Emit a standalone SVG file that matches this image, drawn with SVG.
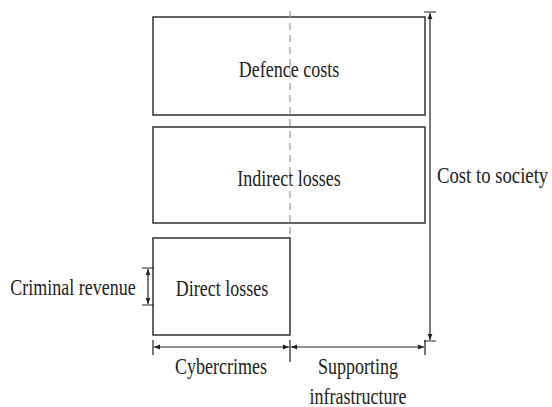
<svg xmlns="http://www.w3.org/2000/svg" width="552" height="407" viewBox="0 0 552 407">
<style>
.box{fill:#fff;stroke:#333;stroke-width:1.5}
.ln{stroke:#222;stroke-width:1.2;fill:none}
.dash{stroke:#999;stroke-width:1.2;stroke-dasharray:7,5;fill:none}
text{font-family:"Liberation Serif","DejaVu Serif",serif;font-size:18px;fill:#222}
</style>
<defs>
<marker id="ah" viewBox="0 0 10 10" refX="10" refY="5" markerWidth="6" markerHeight="6" orient="auto-start-reverse" markerUnits="userSpaceOnUse">
<path d="M0,1 L10,5 L0,9 Z" fill="#222"/>
</marker>
</defs>
<g id="defence">
<rect class="box" x="153" y="17" width="272" height="98"/>
<text transform="matrix(1,0,0,1.25,289,77)" text-anchor="middle">Defence costs</text>
</g>
<g id="indirect">
<rect class="box" x="153" y="127" width="272" height="96"/>
<text transform="matrix(1,0,0,1.25,289,186)" text-anchor="middle">Indirect losses</text>
</g>
<g id="direct">
<rect class="box" x="153" y="238" width="137" height="97"/>
<text transform="matrix(1,0,0,1.25,222,296)" text-anchor="middle">Direct losses</text>
</g>
<g id="labels">
<text transform="matrix(1,0,0,1.25,73,295)" text-anchor="middle">Criminal revenue</text>
<text transform="matrix(1.04,0,0,1.25,437,183)">Cost to society</text>
<text transform="matrix(1,0,0,1.25,221,374)" text-anchor="middle">Cybercrimes</text>
<text transform="matrix(1,0,0,1.25,358,374)" text-anchor="middle">Supporting</text>
<text transform="matrix(1,0,0,1.25,358,404)" text-anchor="middle">infrastructure</text>
</g>
<g id="connectors">
<path class="dash" d="M290,11 V238"/>
<path class="ln" d="M430,13 V340" marker-start="url(#ah)" marker-end="url(#ah)"/>
<path class="ln" d="M424,12 H436 M424,341 H436"/>
<path class="ln" d="M148,269 V304" marker-start="url(#ah)" marker-end="url(#ah)"/>
<path class="ln" d="M142,268 H154 M142,305 H154"/>
<path class="ln" d="M154,347 H289" marker-start="url(#ah)" marker-end="url(#ah)"/>
<path class="ln" d="M291,347 H424" marker-start="url(#ah)" marker-end="url(#ah)"/>
<path class="ln" d="M153,340 V355 M290,340 V362 M425,340 V355"/>
</g>
</svg>
